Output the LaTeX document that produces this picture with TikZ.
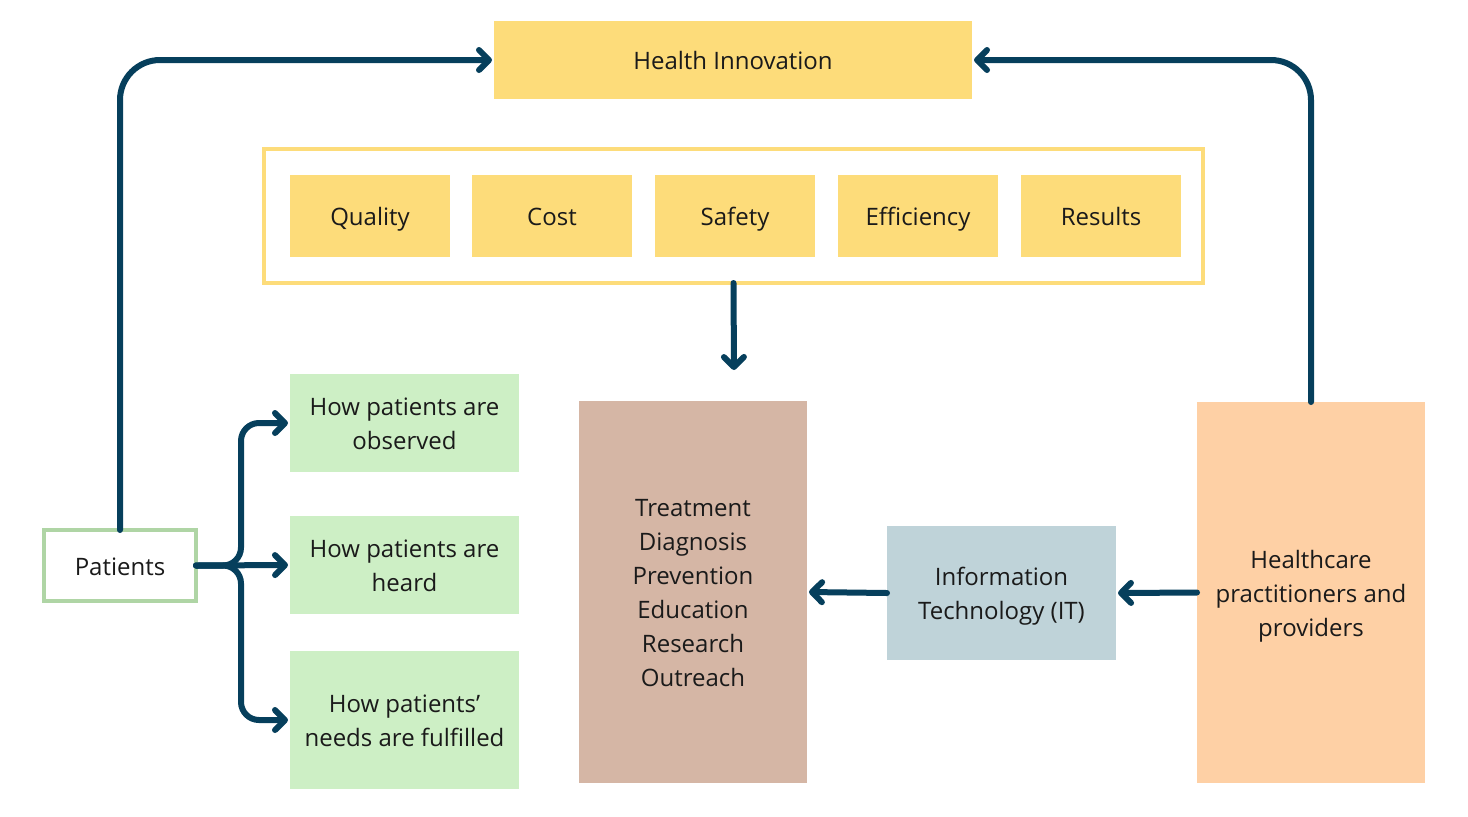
\documentclass[tikz,border=0pt]{standalone}
\usepackage{fontspec}
\setmainfont{Open Sans}
\usetikzlibrary{arrows.meta}
\definecolor{navy}{HTML}{063F5C}
\definecolor{ylw}{HTML}{FDDC7A}
\definecolor{grn}{HTML}{CDEFC5}
\definecolor{grnb}{HTML}{AFD5A5}
\definecolor{brn}{HTML}{D5B6A5}
\definecolor{blu}{HTML}{BFD3D9}
\definecolor{org}{HTML}{FED0A5}
\definecolor{txt}{HTML}{1A1A1A}
\tikzset{
  box/.style={inner sep=0pt, outer sep=0pt, align=center, text=txt, font=\fontsize{12}{17}\selectfont,
    text height=13pt, text depth=3.2pt},
  two/.style={text height=30pt},
  three/.style={text height=47pt},
  six/.style={text height=98pt},
  arr/.style={draw=navy, line width=3pt, line cap=round, line join=round,
    -{Straight Barb[length=5pt,width=10pt,line cap=round,line join=round]}}
}
\begin{document}
\begin{tikzpicture}[x=0.5pt,y=-0.5pt]
\useasboundingbox (0,0) rectangle (1468,816);
% top
\node[box, fill=ylw, minimum width=239pt, minimum height=39pt] (hi) at (733,60) {Health Innovation};
% frame
\node[box, draw=ylw, line width=2pt, minimum width=469.5pt, minimum height=67pt] (frame) at (733.5,216) {};
\foreach \n/\x/\t in {q/370/Quality, c/552/Cost, s/735/Safety, e/918/Efficiency, r/1101/Results}
  \node[box, fill=ylw, minimum width=80pt, minimum height=41pt] (\n) at (\x,216) {\t};
% middle column
\node[box, six, fill=brn, minimum width=114pt, minimum height=191pt] (treat) at (693,592)
  {Treatment\\Diagnosis\\Prevention\\Education\\Research\\Outreach};
\node[box, two, fill=blu, minimum width=114.5pt, minimum height=67pt] (it) at (1001.5,593)
  {Information\\Technology (IT)};
\node[box, three, fill=org, minimum width=114pt, minimum height=190.5pt] (hc) at (1311,592.5)
  {Healthcare\\practitioners and\\providers};
% patients
\node[box, draw=grnb, fill=white, line width=2pt, minimum width=76pt, minimum height=35.5pt] (pat) at (120,565.5) {Patients};
\node[box, two, fill=grn, minimum width=114.5pt, minimum height=49pt] (obs) at (404.5,423) {How patients are\\observed};
\node[box, two, fill=grn, minimum width=114.5pt, minimum height=49pt] (heard) at (404.5,565) {How patients are\\heard};
\node[box, two, fill=grn, minimum width=114.5pt, minimum height=69pt] (need) at (404.5,720) {How patients’\\needs are fulfilled};
% connectors
\coordinate (dn) at (734,370);
\draw[arr, rounded corners=20pt] (pat.north) |- ([xshift=-1pt]hi.west);
\draw[arr, rounded corners=20pt] (hc.north) |- ([xshift=1pt]hi.east);
\draw[arr] (frame.south) -- (dn);
\draw[arr] (it.west) -- ([xshift=1pt]treat.east);
\draw[arr] (hc.west) -- ([xshift=1pt]it.east);
\draw[arr, rounded corners=9pt] (pat.east) -- ++(45,0) |- ([xshift=-1pt]obs.west);
\draw[arr, rounded corners=9pt] (pat.east) -- ++(45,0) |- ([xshift=-1pt]need.west);
\draw[arr] (pat.east) -- ([xshift=-1pt]heard.west);
\end{tikzpicture}
\end{document}
